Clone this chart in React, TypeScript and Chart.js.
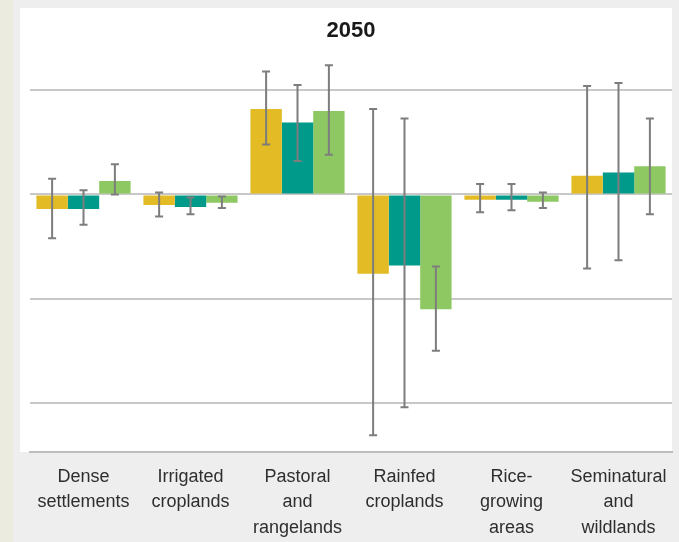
import React, { useEffect, useRef } from "react";
import { Chart, registerables } from "chart.js";

Chart.register(...registerables);

const categories: string[][] = [
  ["Dense", "settlements"],
  ["Irrigated", "croplands"],
  ["Pastoral", "and", "rangelands"],
  ["Rainfed", "croplands"],
  ["Rice-", "growing", "areas"],
  ["Seminatural", "and", "wildlands"],
];

const seriesNames = ["Scenario A", "Scenario B", "Scenario C"];
const seriesColors = ["#E2BB25", "#009A8B", "#8EC862"];

const valuesA = [-0.14, -0.1, 0.82, -0.76, -0.05, 0.18];
const valuesB = [-0.14, -0.12, 0.69, -0.68, -0.05, 0.21];
const valuesC = [0.13, -0.08, 0.8, -1.1, -0.07, 0.27];

const errLowA = [-0.42, -0.21, 0.48, -2.31, -0.17, -0.71];
const errHighA = [0.15, 0.02, 1.18, 0.82, 0.1, 1.04];
const errLowB = [-0.29, -0.19, 0.32, -2.04, -0.15, -0.63];
const errHighB = [0.04, -0.03, 1.05, 0.73, 0.1, 1.07];
const errLowC = [0.0, -0.13, 0.38, -1.5, -0.13, -0.19];
const errHighC = [0.29, -0.02, 1.24, -0.69, 0.02, 0.73];

const yMin = -2.47;
const yMax = 1.43;

const errLows = [errLowA, errLowB, errLowC];
const errHighs = [errHighA, errHighB, errHighC];

const backgroundPlugin = {
  id: "panelBg",
  beforeDraw(chart: any) {
    const { ctx, chartArea, width, height } = chart;
    ctx.save();
    ctx.fillStyle = "#eeeeee";
    ctx.fillRect(0, 0, width, height);
    ctx.fillStyle = "#ecebe0";
    ctx.fillRect(0, 0, 13, height);
    ctx.fillStyle = "#ffffff";
    ctx.fillRect(20, 8, chartArea.right - 20, chartArea.bottom - 8);
    ctx.restore();
  },
};

const errorBarPlugin = {
  id: "errorBars",
  afterDatasetsDraw(chart: any) {
    const { ctx } = chart;
    const yScale = chart.scales.y;
    ctx.save();
    ctx.strokeStyle = "#7d7d7d";
    ctx.lineWidth = 2;
    chart.data.datasets.forEach((ds: any, di: number) => {
      const meta = chart.getDatasetMeta(di);
      meta.data.forEach((bar: any, i: number) => {
        const x = bar.x;
        const yLo = yScale.getPixelForValue(errLows[di][i]);
        const yHi = yScale.getPixelForValue(errHighs[di][i]);
        ctx.beginPath();
        ctx.moveTo(x, yLo);
        ctx.lineTo(x, yHi);
        ctx.moveTo(x - 4, yLo);
        ctx.lineTo(x + 4, yLo);
        ctx.moveTo(x - 4, yHi);
        ctx.lineTo(x + 4, yHi);
        ctx.stroke();
      });
    });
    ctx.restore();
  },
};

export default function App() {
  const ref = useRef<HTMLCanvasElement>(null);
  useEffect(() => {
    document.body.style.margin = "0";
    const canvas = ref.current!;
    const chart = new Chart(canvas, {
      type: "bar",
      data: {
        labels: categories,
        datasets: [valuesA, valuesB, valuesC].map((v, i) => ({
          label: seriesNames[i],
          data: v,
          backgroundColor: seriesColors[i],
          borderWidth: 0,
          categoryPercentage: 0.88,
          barPercentage: 1,
        })),
      },
      options: {
        animation: false,
        responsive: false,
        layout: { padding: { left: 30, right: 7, top: 0, bottom: 0 } },
        plugins: {
          legend: { display: false },
          tooltip: { enabled: false },
          title: {
            display: true,
            text: "2050",
            color: "#1a1a1a",
            font: { family: "'Liberation Sans', Arial, sans-serif", size: 22, weight: "bold" },
            padding: { top: 18, bottom: 1 },
          },
        },
        scales: {
          x: {
            grid: { display: false },
            border: { display: true, color: "#bdbdbd", width: 2 },
            ticks: {
              color: "#2e2e2e",
              maxRotation: 0,
              autoSkip: false,
              padding: 4,
              font: { family: "'Liberation Sans', Arial, sans-serif", size: 18, lineHeight: 1.42 },
            },
            afterFit(scale: any) {
              scale.height = 90;
            },
          },
          y: {
            min: yMin,
            max: yMax,
            border: { display: false },
            grid: { color: "#c8c8c8", lineWidth: 2, drawTicks: false },
            ticks: { display: false, stepSize: 1, includeBounds: false },
            afterFit(scale: any) {
              scale.width = 0;
            },
          },
        },
      },
      plugins: [backgroundPlugin, errorBarPlugin],
    });
    return () => chart.destroy();
  }, []);
  return <canvas ref={ref} width={679} height={542} style={{ display: "block" }} />;
}
